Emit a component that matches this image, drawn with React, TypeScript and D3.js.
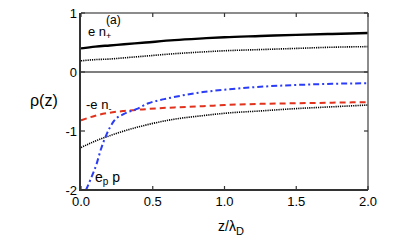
import * as d3 from "d3";
import React, { useEffect, useRef } from "react";

// z / lambda_D grid for the smooth curves
const zGrid = [0, 0.1, 0.2, 0.3, 0.45, 0.65, 0.85, 1.0, 1.25, 1.5, 1.75, 2.0];
const nPlus = [0.4, 0.43, 0.45, 0.47, 0.5, 0.54, 0.57, 0.59, 0.61, 0.63, 0.645, 0.66];
const nPlusDotted = [0.19, 0.21, 0.22, 0.24, 0.27, 0.31, 0.34, 0.36, 0.38, 0.4, 0.42, 0.43];
const nMinus = [-0.82, -0.74, -0.69, -0.66, -0.63, -0.6, -0.58, -0.56, -0.54, -0.53, -0.52, -0.51];
const nMinusDotted = [-1.28, -1.17, -1.08, -1.0, -0.9, -0.8, -0.74, -0.7, -0.66, -0.62, -0.59, -0.56];

// polarization charge curve, sampled finer near the wall
const zP = [0.035, 0.07, 0.107, 0.14, 0.176, 0.23, 0.3, 0.385, 0.47, 0.58, 0.7, 0.85, 1.0, 1.25, 1.5, 1.75, 2.0];
const pCharge = [-2.0, -1.8, -1.57, -1.3, -1.07, -0.83, -0.71, -0.63, -0.53, -0.46, -0.4, -0.34, -0.3, -0.25, -0.22, -0.2, -0.19];

const xTicks = [0, 0.5, 1, 1.5, 2];
const xTickLabels = ["0.0", "0.5", "1.0", "1.5", "2.0"];
const yTicks = [1, 0, -1, -2];
const yTickLabels = ["1", "0", "-1", "-2"];

const font = "'Liberation Sans', Arial, Helvetica, sans-serif";

const App: React.FC = () => {
  const ref = useRef<SVGSVGElement>(null);

  useEffect(() => {
    if (!ref.current) return;
    const svg = d3.select(ref.current);
    svg.selectAll("*").remove();

    const x = d3.scaleLinear().domain([0, 2]).range([81, 368]);
    const y = d3.scaleLinear().domain([-2, 1]).range([190, 13]);
    const [x0, x1] = x.range();
    const [y0, y1] = y.range();

    const line = d3
      .line<[number, number]>()
      .x((d) => x(d[0]))
      .y((d) => y(d[1]))
      .curve(d3.curveMonotoneX);

    const clip = svg.append("clipPath").attr("id", "plotclip");
    clip.append("rect").attr("x", x0).attr("y", y1).attr("width", x1 - x0).attr("height", y0 - y1);

    const g = svg.append("g").attr("clip-path", "url(#plotclip)");

    // zero line
    g.append("line")
      .attr("x1", x0).attr("x2", x1)
      .attr("y1", y(0)).attr("y2", y(0))
      .attr("stroke", "#555").attr("stroke-width", 1.5);

    const series: { data: number[]; z: number[]; color: string; width: number; dash: string | null }[] = [
      { data: nPlusDotted, z: zGrid, color: "#000", width: 1.6, dash: "1.2,1" },
      { data: nMinusDotted, z: zGrid, color: "#000", width: 1.6, dash: "1.2,1" },
      { data: nMinus, z: zGrid, color: "#e0321c", width: 2, dash: "6,4" },
      { data: pCharge, z: zP, color: "#2a3cf5", width: 2, dash: "6,3,2,3" },
      { data: nPlus, z: zGrid, color: "#000", width: 2.4, dash: null },
    ];

    series.forEach((s) => {
      const p = g
        .append("path")
        .datum(s.z.map((z, i) => [z, s.data[i]] as [number, number]))
        .attr("fill", "none")
        .attr("stroke", s.color)
        .attr("stroke-width", s.width)
        .attr("d", line);
      if (s.dash) p.attr("stroke-dasharray", s.dash);
    });

    // frame
    svg.append("line").attr("x1", x0).attr("x2", x1).attr("y1", y1).attr("y2", y1)
      .attr("stroke", "#666").attr("stroke-width", 1.5);
    svg.append("line").attr("x1", x1).attr("x2", x1).attr("y1", y1).attr("y2", y0)
      .attr("stroke", "#666").attr("stroke-width", 1.5);
    svg.append("line").attr("x1", x0 - 1).attr("x2", x0 - 1).attr("y1", y1).attr("y2", y0 + 1)
      .attr("stroke", "#333").attr("stroke-width", 2);
    svg.append("line").attr("x1", x0 - 1).attr("x2", x1).attr("y1", y0).attr("y2", y0)
      .attr("stroke", "#333").attr("stroke-width", 2);

    // ticks (inward)
    xTicks.forEach((t) => {
      svg.append("line").attr("x1", x(t)).attr("x2", x(t)).attr("y1", y0).attr("y2", y0 - 4)
        .attr("stroke", "#333").attr("stroke-width", 1.2);
      svg.append("line").attr("x1", x(t)).attr("x2", x(t)).attr("y1", y1).attr("y2", y1 + 4)
        .attr("stroke", "#333").attr("stroke-width", 1.2);
    });
    yTicks.forEach((t) => {
      svg.append("line").attr("x1", x0).attr("x2", x0 + 4).attr("y1", y(t)).attr("y2", y(t))
        .attr("stroke", "#333").attr("stroke-width", 1.2);
      svg.append("line").attr("x1", x1).attr("x2", x1 - 4).attr("y1", y(t)).attr("y2", y(t))
        .attr("stroke", "#333").attr("stroke-width", 1.2);
    });

    // tick labels
    svg.selectAll(".xl").data(xTicks).enter().append("text")
      .attr("x", (d) => x(d)).attr("y", 206)
      .attr("text-anchor", "middle")
      .attr("font-family", font).attr("font-size", 13)
      .text((d, i) => xTickLabels[i]);
    svg.selectAll(".yl").data(yTicks).enter().append("text")
      .attr("x", 77).attr("y", (d) => y(d) + 4.5)
      .attr("text-anchor", "end")
      .attr("font-family", font).attr("font-size", 13)
      .text((d, i) => yTickLabels[i]);

    // axis titles
    svg.append("text").attr("x", 30).attr("y", 106)
      .attr("font-family", font).attr("font-size", 16).text("ρ(z)");
    const xt = svg.append("text").attr("x", 218).attr("y", 231)
      .attr("font-family", font).attr("font-size", 14);
    xt.append("tspan").text("z/λ");
    xt.append("tspan").attr("dy", 4).attr("font-size", 11).text("D");

    // annotations
    svg.append("text").attr("x", 106).attr("y", 24)
      .attr("font-family", font).attr("font-size", 12).text("(a)");
    const a1 = svg.append("text").attr("x", 88).attr("y", 36)
      .attr("font-family", font).attr("font-size", 13);
    a1.append("tspan").text("e n");
    a1.append("tspan").attr("dy", 3).attr("font-size", 9).text("+");
    const a2 = svg.append("text").attr("x", 86).attr("y", 109)
      .attr("font-family", font).attr("font-size", 13);
    a2.append("tspan").text("-e n");
    a2.append("tspan").attr("dy", 3).attr("font-size", 9).text("-");
    const a3 = svg.append("text").attr("x", 95).attr("y", 182)
      .attr("font-family", font).attr("font-size", 14);
    a3.append("tspan").text("e");
    a3.append("tspan").attr("dy", 3).attr("font-size", 10).text("p");
    a3.append("tspan").attr("dy", -3).attr("font-size", 14).text(" p");
  }, []);

  return (
    <svg
      ref={ref}
      width={399}
      height={247}
      style={{ position: "absolute", left: 0, top: 0, background: "#fff" }}
    ></svg>
  );
};

export default App;
